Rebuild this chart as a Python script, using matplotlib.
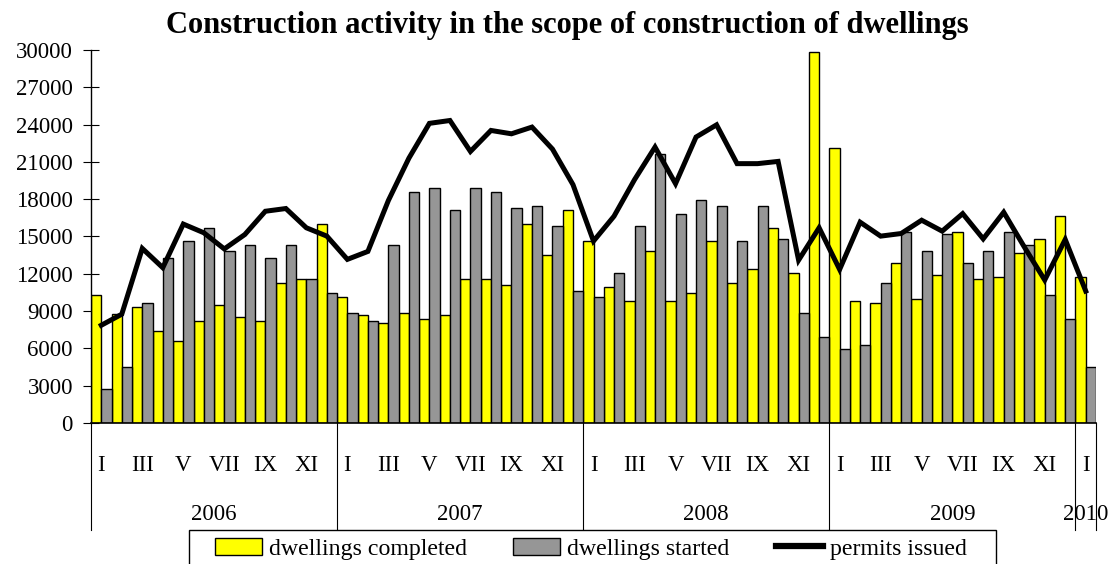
import matplotlib
matplotlib.use("Agg")
import matplotlib.pyplot as plt
import matplotlib.transforms as mtransforms
from matplotlib.patches import Patch, Rectangle
from matplotlib.lines import Line2D

plt.rcParams['font.family'] = ['Liberation Serif', 'DejaVu Serif']

years = ["2006", "2007", "2008", "2009", "2010"]
months_per_year = [12, 12, 12, 12, 1]
month_names = ["I", "", "III", "", "V", "", "VII", "", "IX", "", "XI", ""]

completed = [10270, 8800, 9300, 7380, 6580, 8180, 9470, 8500, 8180, 11230, 11550, 16040,
             10100, 8660, 8020, 8820, 8340, 8660, 11550, 11550, 11070, 16040, 13480, 17170,
             14600, 10900, 9790, 13800, 9790, 10430, 14600, 11230, 12350, 15720, 12030, 29840,
             22140, 9790, 9630, 12830, 9950, 11870, 15400, 11550, 11710, 13640, 14760, 16680,
             11710]
started = [2730, 4490, 9630, 13290, 14600, 15720, 13820, 14280, 13300, 14280, 11550, 10430,
           8820, 8180, 14280, 18600, 18930, 17170, 18930, 18600, 17330, 17490, 15880, 10590,
           10100, 12030, 15880, 21660, 16840, 17970, 17490, 14600, 17490, 14760, 8820, 6900,
           5940, 6260, 11230, 15400, 13800, 15240, 12830, 13800, 15400, 14280, 10270, 8340,
           4490]
permits = [7860, 8750, 14040, 12490, 16000, 15300, 14000, 15160, 17030, 17250, 15700, 15030,
           13160, 13800, 17900, 21300, 24100, 24330, 21840, 23530, 23260, 23800, 22030, 19170,
           14630, 16630, 19570, 22190, 19250, 23000, 23980, 20860, 20860, 21040, 13100, 15700,
           12350, 16150, 15030, 15240, 16310, 15430, 16840, 14810, 16950, 14170, 11500, 14760,
           10610]

labels = []
for n in months_per_year:
    labels += month_names[:n]
n = len(completed)
x = list(range(n))

fig = plt.figure(figsize=(11.11, 5.64), dpi=100)
W, H = 1111, 564
ax = fig.add_axes([91 / W, 1 - 423 / H, (1096 - 91) / W, 373 / H])

yellow = "#FFFF00"
gray = "#969696"
ax.bar([i - 0.25 for i in x], completed, width=0.5, color=yellow, edgecolor="black", linewidth=1.0, zorder=2)
ax.bar([i + 0.25 for i in x], started, width=0.5, color=gray, edgecolor="black", linewidth=1.0, zorder=2)
ax.plot(x, permits, color="black", linewidth=3.6, solid_joinstyle="miter", zorder=3)

ax.set_xlim(-0.5, n - 0.5)
ax.set_ylim(0, 30000)
ax.set_yticks(range(0, 30001, 3000))
ax.tick_params(axis='y', direction='inout', length=12, width=0.8, labelsize=16.5, pad=7)
ax.set_xticks(x)
ax.set_xticklabels(labels)
ax.tick_params(axis='x', length=0, labelsize=16.5, pad=23)

for s in ["top", "right"]:
    ax.spines[s].set_visible(False)
ax.spines["left"].set_linewidth(1.0)
ax.spines["bottom"].set_linewidth(1.2)

trans = mtransforms.blended_transform_factory(ax.transData, ax.transAxes)
ybot = -(530 - 423) / 373
start = 0
bounds = [-0.5]
for yr, m in zip(years, months_per_year):
    start += m
    bounds.append(start - 0.5)
for b in bounds:
    ax.plot([b, b], [0, ybot], transform=trans, color="black", linewidth=0.8, clip_on=False)
for i, yr in enumerate(years):
    c = (bounds[i] + bounds[i + 1]) / 2
    ax.text(c, -(514 - 423) / 373, yr, transform=trans, ha="center", va="center", fontsize=16.5)

fig.text(567 / W, 1 - 25 / H, "Construction activity in the scope of construction of dwellings",
         ha="center", va="center", fontsize=22, fontweight="bold")

# legend frame (extends past the bottom edge as in the reference)
fig.patches.append(Rectangle((189 / W, 1 - 575 / H), (996 - 189) / W, 45 / H,
                             transform=fig.transFigure, facecolor="white",
                             edgecolor="black", linewidth=1.0, zorder=1))

handles = [Patch(facecolor=yellow, edgecolor="black", linewidth=1.0),
           Patch(facecolor=gray, edgecolor="black", linewidth=1.0),
           Line2D([], [], color="black", linewidth=4.5)]
leg = fig.legend(handles, ["dwellings completed", "dwellings started", "permits issued"],
                 loc="upper left", bbox_to_anchor=(215 / W, 1 - 538 / H), ncol=3,
                 frameon=False, fontsize=17.2,
                 borderaxespad=0, handlelength=1.95, handletextpad=0.3, columnspacing=1.95,
                 borderpad=0.0)
leg.set_zorder(5)

fig.savefig("out.png", dpi=100)
